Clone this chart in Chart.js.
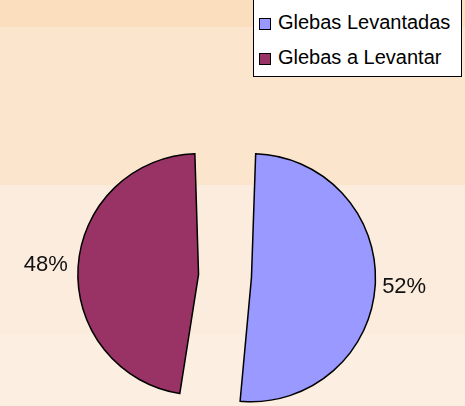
<!DOCTYPE html>
<html>
<head>
<meta charset="utf-8">
<script src="https://cdn.jsdelivr.net/npm/chart.js@4"></script>
<style>
  body { margin: 0; }
  #wrap {
    position: relative; width: 465px; height: 406px; overflow: hidden;
    background: linear-gradient(to bottom,
      #fadebd 0px, #fadebd 27px,
      #fce5cd 27px, #fce5cd 185px,
      #fcecdd 185px, #fcecdd 335px,
      #fcefe1 335px, #fcefe1 406px);
  }
  #legend {
    position: absolute; left: 253px; top: -2px; width: 209px; height: 79px;
    background: #fff; border: 1px solid #000; box-sizing: border-box;
    font-family: "Liberation Sans", Arial, sans-serif; font-size: 20px; color: #000;
  }
  #legend div { position: absolute; left: 5px; height: 22px; line-height: 22px; white-space: nowrap; }
  #legend span {
    display: inline-block; width: 10px; height: 10px; border: 1px solid #000;
    margin-right: 7px; vertical-align: -1px;
  }
</style>
</head>
<body>
<div id="wrap">
  <canvas id="pizza" width="465" height="406"></canvas>
  <div id="legend"></div>
</div>
<script>
var categorias = ['Glebas Levantadas', 'Glebas a Levantar'];
var valores = [52, 48];
var rotulos = ['52%', '48%'];
var cores = ['#9999ff', '#993366'];

// legenda em html
var leg = document.getElementById('legend');
categorias.forEach(function (c, i) {
    var d = document.createElement('div');
    d.style.top = (i === 0 ? 12 : 47) + 'px';
    d.innerHTML = '<span style="background:' + cores[i] + '"></span>' + c;
    leg.appendChild(d);
});

// rótulos de porcentagem fora das fatias
var rotulosPlugin = {
    id: 'rotulos',
    afterDatasetsDraw: function (chart) {
        var ctx = chart.ctx;
        var arcs = chart.getDatasetMeta(0).data;
        ctx.save();
        ctx.font = '22px "Liberation Sans", Arial, sans-serif';
        ctx.fillStyle = '#111';
        ctx.textAlign = 'center';
        ctx.textBaseline = 'middle';
        arcs.forEach(function (a, i) {
            var meio = (a.startAngle + a.endAngle) / 2;
            var r = a.outerRadius + 82;
            ctx.fillText(rotulos[i], a.x + Math.cos(meio) * r, a.y + Math.sin(meio) * r);
        });
        ctx.restore();
    }
};

var ctx = document.getElementById('pizza').getContext('2d');
var grafico = new Chart(ctx, {
    type: 'pie',
    data: {
        labels: categorias,
        datasets: [{
            data: valores,
            backgroundColor: cores,
            borderColor: '#000',
            borderWidth: 1.5,
            borderJoinStyle: 'miter',
            offset: 106
        }]
    },
    options: {
        responsive: false,
        animation: false,
        radius: 97.5,
        layout: { padding: { left: 0, right: 15, top: 146, bottom: 0 } },
        plugins: {
            legend: { display: false },
            tooltip: { enabled: false }
        }
    },
    plugins: [rotulosPlugin]
});
</script>
</body>
</html>
